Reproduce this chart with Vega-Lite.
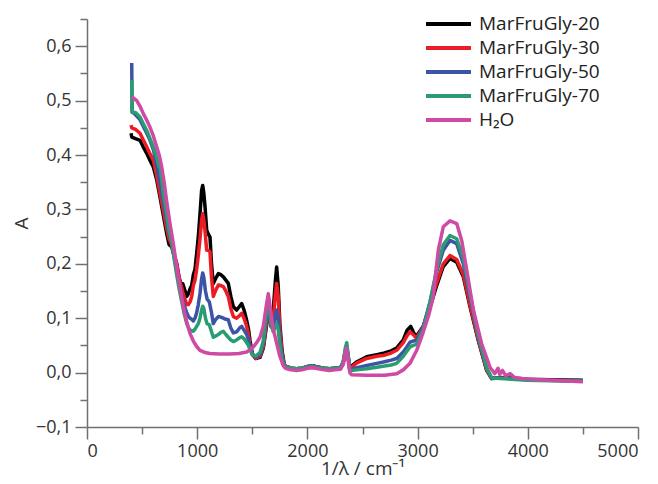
{
  "$schema": "https://vega.github.io/schema/vega-lite/v6.json",
  "width": 551,
  "height": 408,
  "autosize": {"type": "none"},
  "padding": {"left": 87, "top": 19, "right": 20, "bottom": 57},
  "background": "white",
  "config": {
    "view": {"stroke": null},
    "font": "Open Sans",
    "axis": {"grid": false, "domainColor": "#707070", "domainWidth": 1.5, "tickColor": "#707070", "tickWidth": 1.5, "labelFont": "Open Sans", "labelFontSize": 18, "labelColor": "#333333", "titleFont": "Open Sans", "titleFontSize": 19, "titleFontWeight": "normal", "titleColor": "#333333"}
  },
  "datasets": {
    "spec": [
      {"s":"MarFruGly-20","x":400,"y":0.44},{"s":"MarFruGly-20","x":406,"y":0.433},{"s":"MarFruGly-20","x":440,"y":0.43},{"s":"MarFruGly-20","x":481,"y":0.427},{"s":"MarFruGly-20","x":510,"y":0.415},{"s":"MarFruGly-20","x":542,"y":0.403},{"s":"MarFruGly-20","x":572,"y":0.39},{"s":"MarFruGly-20","x":602,"y":0.378},{"s":"MarFruGly-20","x":632,"y":0.355},{"s":"MarFruGly-20","x":662,"y":0.323},{"s":"MarFruGly-20","x":692,"y":0.29},{"s":"MarFruGly-20","x":723,"y":0.256},{"s":"MarFruGly-20","x":745,"y":0.235},{"s":"MarFruGly-20","x":769,"y":0.231},{"s":"MarFruGly-20","x":790,"y":0.215},{"s":"MarFruGly-20","x":814,"y":0.2},{"s":"MarFruGly-20","x":835,"y":0.175},{"s":"MarFruGly-20","x":850,"y":0.165},{"s":"MarFruGly-20","x":870,"y":0.163},{"s":"MarFruGly-20","x":890,"y":0.15},{"s":"MarFruGly-20","x":905,"y":0.14},{"s":"MarFruGly-20","x":920,"y":0.145},{"s":"MarFruGly-20","x":935,"y":0.154},{"s":"MarFruGly-20","x":950,"y":0.16},{"s":"MarFruGly-20","x":965,"y":0.18},{"s":"MarFruGly-20","x":980,"y":0.19},{"s":"MarFruGly-20","x":995,"y":0.219},{"s":"MarFruGly-20","x":1010,"y":0.25},{"s":"MarFruGly-20","x":1025,"y":0.29},{"s":"MarFruGly-20","x":1040,"y":0.335},{"s":"MarFruGly-20","x":1050,"y":0.344},{"s":"MarFruGly-20","x":1060,"y":0.33},{"s":"MarFruGly-20","x":1071,"y":0.305},{"s":"MarFruGly-20","x":1086,"y":0.262},{"s":"MarFruGly-20","x":1100,"y":0.255},{"s":"MarFruGly-20","x":1116,"y":0.249},{"s":"MarFruGly-20","x":1130,"y":0.2},{"s":"MarFruGly-20","x":1146,"y":0.164},{"s":"MarFruGly-20","x":1165,"y":0.172},{"s":"MarFruGly-20","x":1192,"y":0.182},{"s":"MarFruGly-20","x":1215,"y":0.18},{"s":"MarFruGly-20","x":1237,"y":0.176},{"s":"MarFruGly-20","x":1260,"y":0.17},{"s":"MarFruGly-20","x":1282,"y":0.164},{"s":"MarFruGly-20","x":1305,"y":0.14},{"s":"MarFruGly-20","x":1328,"y":0.121},{"s":"MarFruGly-20","x":1358,"y":0.115},{"s":"MarFruGly-20","x":1385,"y":0.122},{"s":"MarFruGly-20","x":1404,"y":0.127},{"s":"MarFruGly-20","x":1425,"y":0.115},{"s":"MarFruGly-20","x":1449,"y":0.096},{"s":"MarFruGly-20","x":1465,"y":0.08},{"s":"MarFruGly-20","x":1479,"y":0.059},{"s":"MarFruGly-20","x":1500,"y":0.035},{"s":"MarFruGly-20","x":1530,"y":0.026},{"s":"MarFruGly-20","x":1570,"y":0.028},{"s":"MarFruGly-20","x":1600,"y":0.045},{"s":"MarFruGly-20","x":1625,"y":0.08},{"s":"MarFruGly-20","x":1645,"y":0.11},{"s":"MarFruGly-20","x":1670,"y":0.09},{"s":"MarFruGly-20","x":1690,"y":0.115},{"s":"MarFruGly-20","x":1710,"y":0.17},{"s":"MarFruGly-20","x":1721,"y":0.194},{"s":"MarFruGly-20","x":1735,"y":0.16},{"s":"MarFruGly-20","x":1750,"y":0.09},{"s":"MarFruGly-20","x":1770,"y":0.04},{"s":"MarFruGly-20","x":1790,"y":0.015},{"s":"MarFruGly-20","x":1800,"y":0.012},{"s":"MarFruGly-20","x":1850,"y":0.008},{"s":"MarFruGly-20","x":1900,"y":0.007},{"s":"MarFruGly-20","x":1950,"y":0.008},{"s":"MarFruGly-20","x":2000,"y":0.011},{"s":"MarFruGly-20","x":2050,"y":0.012},{"s":"MarFruGly-20","x":2100,"y":0.01},{"s":"MarFruGly-20","x":2150,"y":0.008},{"s":"MarFruGly-20","x":2200,"y":0.007},{"s":"MarFruGly-20","x":2250,"y":0.008},{"s":"MarFruGly-20","x":2300,"y":0.009},{"s":"MarFruGly-20","x":2325,"y":0.018},{"s":"MarFruGly-20","x":2345,"y":0.038},{"s":"MarFruGly-20","x":2357,"y":0.045},{"s":"MarFruGly-20","x":2370,"y":0.028},{"s":"MarFruGly-20","x":2385,"y":0.008},{"s":"MarFruGly-20","x":2400,"y":0.012},{"s":"MarFruGly-20","x":2450,"y":0.02},{"s":"MarFruGly-20","x":2538,"y":0.029},{"s":"MarFruGly-20","x":2630,"y":0.033},{"s":"MarFruGly-20","x":2700,"y":0.036},{"s":"MarFruGly-20","x":2760,"y":0.04},{"s":"MarFruGly-20","x":2810,"y":0.045},{"s":"MarFruGly-20","x":2870,"y":0.06},{"s":"MarFruGly-20","x":2905,"y":0.078},{"s":"MarFruGly-20","x":2937,"y":0.085},{"s":"MarFruGly-20","x":2960,"y":0.075},{"s":"MarFruGly-20","x":2980,"y":0.068},{"s":"MarFruGly-20","x":3000,"y":0.07},{"s":"MarFruGly-20","x":3052,"y":0.085},{"s":"MarFruGly-20","x":3113,"y":0.12},{"s":"MarFruGly-20","x":3173,"y":0.16},{"s":"MarFruGly-20","x":3233,"y":0.195},{"s":"MarFruGly-20","x":3294,"y":0.21},{"s":"MarFruGly-20","x":3355,"y":0.203},{"s":"MarFruGly-20","x":3415,"y":0.176},{"s":"MarFruGly-20","x":3476,"y":0.121},{"s":"MarFruGly-20","x":3551,"y":0.059},{"s":"MarFruGly-20","x":3627,"y":0.004},{"s":"MarFruGly-20","x":3672,"y":-0.011},{"s":"MarFruGly-20","x":3750,"y":-0.009},{"s":"MarFruGly-20","x":3850,"y":-0.01},{"s":"MarFruGly-20","x":4000,"y":-0.012},{"s":"MarFruGly-20","x":4200,"y":-0.013},{"s":"MarFruGly-20","x":4500,"y":-0.014},

      {"s":"MarFruGly-30","x":400,"y":0.455},{"s":"MarFruGly-30","x":406,"y":0.45},{"s":"MarFruGly-30","x":440,"y":0.447},{"s":"MarFruGly-30","x":481,"y":0.44},{"s":"MarFruGly-30","x":510,"y":0.428},{"s":"MarFruGly-30","x":542,"y":0.415},{"s":"MarFruGly-30","x":572,"y":0.402},{"s":"MarFruGly-30","x":602,"y":0.39},{"s":"MarFruGly-30","x":632,"y":0.362},{"s":"MarFruGly-30","x":662,"y":0.33},{"s":"MarFruGly-30","x":692,"y":0.298},{"s":"MarFruGly-30","x":723,"y":0.265},{"s":"MarFruGly-30","x":745,"y":0.245},{"s":"MarFruGly-30","x":769,"y":0.235},{"s":"MarFruGly-30","x":790,"y":0.218},{"s":"MarFruGly-30","x":814,"y":0.2},{"s":"MarFruGly-30","x":835,"y":0.175},{"s":"MarFruGly-30","x":860,"y":0.155},{"s":"MarFruGly-30","x":880,"y":0.14},{"s":"MarFruGly-30","x":905,"y":0.125},{"s":"MarFruGly-30","x":920,"y":0.125},{"s":"MarFruGly-30","x":935,"y":0.13},{"s":"MarFruGly-30","x":950,"y":0.14},{"s":"MarFruGly-30","x":965,"y":0.16},{"s":"MarFruGly-30","x":980,"y":0.17},{"s":"MarFruGly-30","x":995,"y":0.19},{"s":"MarFruGly-30","x":1010,"y":0.215},{"s":"MarFruGly-30","x":1025,"y":0.245},{"s":"MarFruGly-30","x":1040,"y":0.28},{"s":"MarFruGly-30","x":1050,"y":0.292},{"s":"MarFruGly-30","x":1060,"y":0.28},{"s":"MarFruGly-30","x":1071,"y":0.26},{"s":"MarFruGly-30","x":1086,"y":0.225},{"s":"MarFruGly-30","x":1100,"y":0.225},{"s":"MarFruGly-30","x":1116,"y":0.222},{"s":"MarFruGly-30","x":1130,"y":0.175},{"s":"MarFruGly-30","x":1146,"y":0.14},{"s":"MarFruGly-30","x":1165,"y":0.15},{"s":"MarFruGly-30","x":1192,"y":0.161},{"s":"MarFruGly-30","x":1215,"y":0.16},{"s":"MarFruGly-30","x":1237,"y":0.158},{"s":"MarFruGly-30","x":1260,"y":0.15},{"s":"MarFruGly-30","x":1282,"y":0.14},{"s":"MarFruGly-30","x":1305,"y":0.118},{"s":"MarFruGly-30","x":1328,"y":0.103},{"s":"MarFruGly-30","x":1358,"y":0.1},{"s":"MarFruGly-30","x":1385,"y":0.105},{"s":"MarFruGly-30","x":1404,"y":0.109},{"s":"MarFruGly-30","x":1425,"y":0.1},{"s":"MarFruGly-30","x":1449,"y":0.085},{"s":"MarFruGly-30","x":1465,"y":0.07},{"s":"MarFruGly-30","x":1479,"y":0.05},{"s":"MarFruGly-30","x":1500,"y":0.033},{"s":"MarFruGly-30","x":1530,"y":0.026},{"s":"MarFruGly-30","x":1570,"y":0.03},{"s":"MarFruGly-30","x":1600,"y":0.047},{"s":"MarFruGly-30","x":1625,"y":0.085},{"s":"MarFruGly-30","x":1645,"y":0.115},{"s":"MarFruGly-30","x":1670,"y":0.085},{"s":"MarFruGly-30","x":1690,"y":0.1},{"s":"MarFruGly-30","x":1710,"y":0.145},{"s":"MarFruGly-30","x":1721,"y":0.164},{"s":"MarFruGly-30","x":1735,"y":0.14},{"s":"MarFruGly-30","x":1750,"y":0.08},{"s":"MarFruGly-30","x":1770,"y":0.035},{"s":"MarFruGly-30","x":1790,"y":0.014},{"s":"MarFruGly-30","x":1800,"y":0.012},{"s":"MarFruGly-30","x":1850,"y":0.008},{"s":"MarFruGly-30","x":1900,"y":0.007},{"s":"MarFruGly-30","x":1950,"y":0.008},{"s":"MarFruGly-30","x":2000,"y":0.011},{"s":"MarFruGly-30","x":2050,"y":0.012},{"s":"MarFruGly-30","x":2100,"y":0.01},{"s":"MarFruGly-30","x":2150,"y":0.008},{"s":"MarFruGly-30","x":2200,"y":0.007},{"s":"MarFruGly-30","x":2250,"y":0.008},{"s":"MarFruGly-30","x":2300,"y":0.009},{"s":"MarFruGly-30","x":2325,"y":0.018},{"s":"MarFruGly-30","x":2345,"y":0.038},{"s":"MarFruGly-30","x":2357,"y":0.045},{"s":"MarFruGly-30","x":2370,"y":0.028},{"s":"MarFruGly-30","x":2385,"y":0.006},{"s":"MarFruGly-30","x":2400,"y":0.01},{"s":"MarFruGly-30","x":2450,"y":0.018},{"s":"MarFruGly-30","x":2538,"y":0.026},{"s":"MarFruGly-30","x":2630,"y":0.03},{"s":"MarFruGly-30","x":2700,"y":0.032},{"s":"MarFruGly-30","x":2760,"y":0.036},{"s":"MarFruGly-30","x":2810,"y":0.041},{"s":"MarFruGly-30","x":2870,"y":0.055},{"s":"MarFruGly-30","x":2905,"y":0.068},{"s":"MarFruGly-30","x":2931,"y":0.075},{"s":"MarFruGly-30","x":2960,"y":0.07},{"s":"MarFruGly-30","x":2980,"y":0.065},{"s":"MarFruGly-30","x":3000,"y":0.067},{"s":"MarFruGly-30","x":3052,"y":0.085},{"s":"MarFruGly-30","x":3113,"y":0.125},{"s":"MarFruGly-30","x":3173,"y":0.165},{"s":"MarFruGly-30","x":3233,"y":0.2},{"s":"MarFruGly-30","x":3294,"y":0.215},{"s":"MarFruGly-30","x":3355,"y":0.208},{"s":"MarFruGly-30","x":3415,"y":0.18},{"s":"MarFruGly-30","x":3476,"y":0.124},{"s":"MarFruGly-30","x":3551,"y":0.06},{"s":"MarFruGly-30","x":3627,"y":0.005},{"s":"MarFruGly-30","x":3672,"y":-0.011},{"s":"MarFruGly-30","x":3750,"y":-0.01},{"s":"MarFruGly-30","x":3850,"y":-0.011},{"s":"MarFruGly-30","x":4000,"y":-0.013},{"s":"MarFruGly-30","x":4200,"y":-0.014},{"s":"MarFruGly-30","x":4500,"y":-0.015},

      {"s":"MarFruGly-50","x":406,"y":0.569},{"s":"MarFruGly-50","x":409,"y":0.48},{"s":"MarFruGly-50","x":440,"y":0.474},{"s":"MarFruGly-50","x":481,"y":0.465},{"s":"MarFruGly-50","x":510,"y":0.453},{"s":"MarFruGly-50","x":542,"y":0.44},{"s":"MarFruGly-50","x":572,"y":0.427},{"s":"MarFruGly-50","x":602,"y":0.41},{"s":"MarFruGly-50","x":632,"y":0.382},{"s":"MarFruGly-50","x":662,"y":0.35},{"s":"MarFruGly-50","x":692,"y":0.315},{"s":"MarFruGly-50","x":723,"y":0.28},{"s":"MarFruGly-50","x":745,"y":0.255},{"s":"MarFruGly-50","x":769,"y":0.24},{"s":"MarFruGly-50","x":790,"y":0.215},{"s":"MarFruGly-50","x":814,"y":0.19},{"s":"MarFruGly-50","x":835,"y":0.165},{"s":"MarFruGly-50","x":860,"y":0.14},{"s":"MarFruGly-50","x":880,"y":0.125},{"s":"MarFruGly-50","x":905,"y":0.11},{"s":"MarFruGly-50","x":920,"y":0.103},{"s":"MarFruGly-50","x":935,"y":0.1},{"s":"MarFruGly-50","x":950,"y":0.098},{"s":"MarFruGly-50","x":965,"y":0.095},{"s":"MarFruGly-50","x":980,"y":0.1},{"s":"MarFruGly-50","x":995,"y":0.11},{"s":"MarFruGly-50","x":1010,"y":0.125},{"s":"MarFruGly-50","x":1025,"y":0.145},{"s":"MarFruGly-50","x":1040,"y":0.172},{"s":"MarFruGly-50","x":1050,"y":0.183},{"s":"MarFruGly-50","x":1060,"y":0.175},{"s":"MarFruGly-50","x":1075,"y":0.15},{"s":"MarFruGly-50","x":1090,"y":0.135},{"s":"MarFruGly-50","x":1110,"y":0.13},{"s":"MarFruGly-50","x":1130,"y":0.11},{"s":"MarFruGly-50","x":1146,"y":0.09},{"s":"MarFruGly-50","x":1165,"y":0.097},{"s":"MarFruGly-50","x":1192,"y":0.103},{"s":"MarFruGly-50","x":1215,"y":0.102},{"s":"MarFruGly-50","x":1237,"y":0.1},{"s":"MarFruGly-50","x":1260,"y":0.098},{"s":"MarFruGly-50","x":1282,"y":0.097},{"s":"MarFruGly-50","x":1305,"y":0.082},{"s":"MarFruGly-50","x":1328,"y":0.073},{"s":"MarFruGly-50","x":1358,"y":0.075},{"s":"MarFruGly-50","x":1385,"y":0.082},{"s":"MarFruGly-50","x":1404,"y":0.085},{"s":"MarFruGly-50","x":1425,"y":0.078},{"s":"MarFruGly-50","x":1449,"y":0.07},{"s":"MarFruGly-50","x":1465,"y":0.06},{"s":"MarFruGly-50","x":1479,"y":0.048},{"s":"MarFruGly-50","x":1500,"y":0.034},{"s":"MarFruGly-50","x":1530,"y":0.028},{"s":"MarFruGly-50","x":1570,"y":0.033},{"s":"MarFruGly-50","x":1600,"y":0.052},{"s":"MarFruGly-50","x":1625,"y":0.095},{"s":"MarFruGly-50","x":1645,"y":0.13},{"s":"MarFruGly-50","x":1670,"y":0.085},{"s":"MarFruGly-50","x":1690,"y":0.08},{"s":"MarFruGly-50","x":1710,"y":0.105},{"s":"MarFruGly-50","x":1721,"y":0.115},{"s":"MarFruGly-50","x":1735,"y":0.1},{"s":"MarFruGly-50","x":1750,"y":0.06},{"s":"MarFruGly-50","x":1770,"y":0.03},{"s":"MarFruGly-50","x":1790,"y":0.013},{"s":"MarFruGly-50","x":1800,"y":0.012},{"s":"MarFruGly-50","x":1850,"y":0.008},{"s":"MarFruGly-50","x":1900,"y":0.007},{"s":"MarFruGly-50","x":1950,"y":0.008},{"s":"MarFruGly-50","x":2000,"y":0.011},{"s":"MarFruGly-50","x":2050,"y":0.012},{"s":"MarFruGly-50","x":2100,"y":0.01},{"s":"MarFruGly-50","x":2150,"y":0.008},{"s":"MarFruGly-50","x":2200,"y":0.007},{"s":"MarFruGly-50","x":2250,"y":0.008},{"s":"MarFruGly-50","x":2300,"y":0.009},{"s":"MarFruGly-50","x":2325,"y":0.019},{"s":"MarFruGly-50","x":2345,"y":0.042},{"s":"MarFruGly-50","x":2357,"y":0.05},{"s":"MarFruGly-50","x":2370,"y":0.03},{"s":"MarFruGly-50","x":2385,"y":0.004},{"s":"MarFruGly-50","x":2400,"y":0.006},{"s":"MarFruGly-50","x":2450,"y":0.009},{"s":"MarFruGly-50","x":2538,"y":0.013},{"s":"MarFruGly-50","x":2630,"y":0.017},{"s":"MarFruGly-50","x":2700,"y":0.02},{"s":"MarFruGly-50","x":2760,"y":0.023},{"s":"MarFruGly-50","x":2810,"y":0.026},{"s":"MarFruGly-50","x":2870,"y":0.038},{"s":"MarFruGly-50","x":2905,"y":0.048},{"s":"MarFruGly-50","x":2931,"y":0.056},{"s":"MarFruGly-50","x":2960,"y":0.058},{"s":"MarFruGly-50","x":2992,"y":0.059},{"s":"MarFruGly-50","x":3052,"y":0.085},{"s":"MarFruGly-50","x":3113,"y":0.13},{"s":"MarFruGly-50","x":3173,"y":0.185},{"s":"MarFruGly-50","x":3233,"y":0.225},{"s":"MarFruGly-50","x":3294,"y":0.243},{"s":"MarFruGly-50","x":3355,"y":0.237},{"s":"MarFruGly-50","x":3415,"y":0.2},{"s":"MarFruGly-50","x":3476,"y":0.138},{"s":"MarFruGly-50","x":3551,"y":0.065},{"s":"MarFruGly-50","x":3627,"y":0.007},{"s":"MarFruGly-50","x":3672,"y":-0.01},{"s":"MarFruGly-50","x":3750,"y":-0.01},{"s":"MarFruGly-50","x":3850,"y":-0.011},{"s":"MarFruGly-50","x":4000,"y":-0.013},{"s":"MarFruGly-50","x":4200,"y":-0.014},{"s":"MarFruGly-50","x":4500,"y":-0.015},

      {"s":"MarFruGly-70","x":406,"y":0.538},{"s":"MarFruGly-70","x":409,"y":0.478},{"s":"MarFruGly-70","x":440,"y":0.478},{"s":"MarFruGly-70","x":481,"y":0.47},{"s":"MarFruGly-70","x":510,"y":0.458},{"s":"MarFruGly-70","x":542,"y":0.445},{"s":"MarFruGly-70","x":572,"y":0.43},{"s":"MarFruGly-70","x":602,"y":0.415},{"s":"MarFruGly-70","x":632,"y":0.395},{"s":"MarFruGly-70","x":655,"y":0.378},{"s":"MarFruGly-70","x":662,"y":0.385},{"s":"MarFruGly-70","x":668,"y":0.37},{"s":"MarFruGly-70","x":692,"y":0.33},{"s":"MarFruGly-70","x":723,"y":0.29},{"s":"MarFruGly-70","x":745,"y":0.26},{"s":"MarFruGly-70","x":769,"y":0.24},{"s":"MarFruGly-70","x":790,"y":0.21},{"s":"MarFruGly-70","x":814,"y":0.18},{"s":"MarFruGly-70","x":835,"y":0.155},{"s":"MarFruGly-70","x":860,"y":0.13},{"s":"MarFruGly-70","x":880,"y":0.11},{"s":"MarFruGly-70","x":905,"y":0.09},{"s":"MarFruGly-70","x":920,"y":0.083},{"s":"MarFruGly-70","x":935,"y":0.078},{"s":"MarFruGly-70","x":950,"y":0.077},{"s":"MarFruGly-70","x":965,"y":0.076},{"s":"MarFruGly-70","x":980,"y":0.08},{"s":"MarFruGly-70","x":995,"y":0.085},{"s":"MarFruGly-70","x":1010,"y":0.09},{"s":"MarFruGly-70","x":1025,"y":0.1},{"s":"MarFruGly-70","x":1040,"y":0.115},{"s":"MarFruGly-70","x":1050,"y":0.122},{"s":"MarFruGly-70","x":1060,"y":0.118},{"s":"MarFruGly-70","x":1075,"y":0.1},{"s":"MarFruGly-70","x":1090,"y":0.09},{"s":"MarFruGly-70","x":1110,"y":0.088},{"s":"MarFruGly-70","x":1130,"y":0.075},{"s":"MarFruGly-70","x":1146,"y":0.065},{"s":"MarFruGly-70","x":1165,"y":0.067},{"s":"MarFruGly-70","x":1192,"y":0.07},{"s":"MarFruGly-70","x":1215,"y":0.074},{"s":"MarFruGly-70","x":1237,"y":0.076},{"s":"MarFruGly-70","x":1260,"y":0.07},{"s":"MarFruGly-70","x":1282,"y":0.065},{"s":"MarFruGly-70","x":1305,"y":0.06},{"s":"MarFruGly-70","x":1328,"y":0.057},{"s":"MarFruGly-70","x":1358,"y":0.06},{"s":"MarFruGly-70","x":1385,"y":0.064},{"s":"MarFruGly-70","x":1404,"y":0.066},{"s":"MarFruGly-70","x":1425,"y":0.062},{"s":"MarFruGly-70","x":1449,"y":0.055},{"s":"MarFruGly-70","x":1465,"y":0.05},{"s":"MarFruGly-70","x":1479,"y":0.042},{"s":"MarFruGly-70","x":1500,"y":0.033},{"s":"MarFruGly-70","x":1530,"y":0.03},{"s":"MarFruGly-70","x":1570,"y":0.037},{"s":"MarFruGly-70","x":1600,"y":0.058},{"s":"MarFruGly-70","x":1625,"y":0.105},{"s":"MarFruGly-70","x":1645,"y":0.14},{"s":"MarFruGly-70","x":1670,"y":0.09},{"s":"MarFruGly-70","x":1690,"y":0.075},{"s":"MarFruGly-70","x":1710,"y":0.085},{"s":"MarFruGly-70","x":1721,"y":0.09},{"s":"MarFruGly-70","x":1735,"y":0.08},{"s":"MarFruGly-70","x":1750,"y":0.05},{"s":"MarFruGly-70","x":1770,"y":0.025},{"s":"MarFruGly-70","x":1790,"y":0.012},{"s":"MarFruGly-70","x":1800,"y":0.011},{"s":"MarFruGly-70","x":1850,"y":0.008},{"s":"MarFruGly-70","x":1900,"y":0.007},{"s":"MarFruGly-70","x":1950,"y":0.008},{"s":"MarFruGly-70","x":2000,"y":0.01},{"s":"MarFruGly-70","x":2050,"y":0.011},{"s":"MarFruGly-70","x":2100,"y":0.009},{"s":"MarFruGly-70","x":2150,"y":0.008},{"s":"MarFruGly-70","x":2200,"y":0.007},{"s":"MarFruGly-70","x":2250,"y":0.008},{"s":"MarFruGly-70","x":2300,"y":0.009},{"s":"MarFruGly-70","x":2325,"y":0.02},{"s":"MarFruGly-70","x":2345,"y":0.046},{"s":"MarFruGly-70","x":2357,"y":0.055},{"s":"MarFruGly-70","x":2370,"y":0.032},{"s":"MarFruGly-70","x":2385,"y":0.003},{"s":"MarFruGly-70","x":2400,"y":0.004},{"s":"MarFruGly-70","x":2450,"y":0.005},{"s":"MarFruGly-70","x":2538,"y":0.007},{"s":"MarFruGly-70","x":2630,"y":0.01},{"s":"MarFruGly-70","x":2700,"y":0.012},{"s":"MarFruGly-70","x":2760,"y":0.014},{"s":"MarFruGly-70","x":2810,"y":0.017},{"s":"MarFruGly-70","x":2870,"y":0.03},{"s":"MarFruGly-70","x":2905,"y":0.04},{"s":"MarFruGly-70","x":2931,"y":0.047},{"s":"MarFruGly-70","x":2960,"y":0.05},{"s":"MarFruGly-70","x":2992,"y":0.052},{"s":"MarFruGly-70","x":3052,"y":0.08},{"s":"MarFruGly-70","x":3113,"y":0.13},{"s":"MarFruGly-70","x":3173,"y":0.19},{"s":"MarFruGly-70","x":3233,"y":0.235},{"s":"MarFruGly-70","x":3294,"y":0.252},{"s":"MarFruGly-70","x":3355,"y":0.246},{"s":"MarFruGly-70","x":3415,"y":0.21},{"s":"MarFruGly-70","x":3476,"y":0.145},{"s":"MarFruGly-70","x":3551,"y":0.068},{"s":"MarFruGly-70","x":3627,"y":0.009},{"s":"MarFruGly-70","x":3672,"y":-0.01},{"s":"MarFruGly-70","x":3750,"y":-0.011},{"s":"MarFruGly-70","x":3850,"y":-0.012},{"s":"MarFruGly-70","x":4000,"y":-0.014},{"s":"MarFruGly-70","x":4200,"y":-0.015},{"s":"MarFruGly-70","x":4500,"y":-0.016},

      {"s":"H₂O","x":406,"y":0.507},{"s":"H₂O","x":420,"y":0.505},{"s":"H₂O","x":451,"y":0.5},{"s":"H₂O","x":480,"y":0.49},{"s":"H₂O","x":511,"y":0.476},{"s":"H₂O","x":540,"y":0.465},{"s":"H₂O","x":572,"y":0.451},{"s":"H₂O","x":602,"y":0.435},{"s":"H₂O","x":632,"y":0.415},{"s":"H₂O","x":655,"y":0.4},{"s":"H₂O","x":678,"y":0.378},{"s":"H₂O","x":700,"y":0.35},{"s":"H₂O","x":723,"y":0.315},{"s":"H₂O","x":753,"y":0.274},{"s":"H₂O","x":785,"y":0.235},{"s":"H₂O","x":814,"y":0.194},{"s":"H₂O","x":845,"y":0.155},{"s":"H₂O","x":874,"y":0.121},{"s":"H₂O","x":905,"y":0.093},{"s":"H₂O","x":935,"y":0.072},{"s":"H₂O","x":965,"y":0.058},{"s":"H₂O","x":995,"y":0.048},{"s":"H₂O","x":1025,"y":0.041},{"s":"H₂O","x":1070,"y":0.037},{"s":"H₂O","x":1116,"y":0.035},{"s":"H₂O","x":1200,"y":0.034},{"s":"H₂O","x":1298,"y":0.034},{"s":"H₂O","x":1380,"y":0.035},{"s":"H₂O","x":1449,"y":0.038},{"s":"H₂O","x":1480,"y":0.042},{"s":"H₂O","x":1509,"y":0.047},{"s":"H₂O","x":1540,"y":0.055},{"s":"H₂O","x":1570,"y":0.065},{"s":"H₂O","x":1600,"y":0.085},{"s":"H₂O","x":1625,"y":0.12},{"s":"H₂O","x":1645,"y":0.145},{"s":"H₂O","x":1665,"y":0.115},{"s":"H₂O","x":1690,"y":0.08},{"s":"H₂O","x":1720,"y":0.055},{"s":"H₂O","x":1750,"y":0.03},{"s":"H₂O","x":1780,"y":0.013},{"s":"H₂O","x":1800,"y":0.008},{"s":"H₂O","x":1850,"y":0.005},{"s":"H₂O","x":1900,"y":0.004},{"s":"H₂O","x":1950,"y":0.005},{"s":"H₂O","x":2000,"y":0.008},{"s":"H₂O","x":2050,"y":0.009},{"s":"H₂O","x":2100,"y":0.007},{"s":"H₂O","x":2150,"y":0.005},{"s":"H₂O","x":2200,"y":0.004},{"s":"H₂O","x":2250,"y":0.005},{"s":"H₂O","x":2300,"y":0.006},{"s":"H₂O","x":2325,"y":0.015},{"s":"H₂O","x":2345,"y":0.037},{"s":"H₂O","x":2357,"y":0.045},{"s":"H₂O","x":2370,"y":0.022},{"s":"H₂O","x":2385,"y":0.0},{"s":"H₂O","x":2400,"y":-0.004},{"s":"H₂O","x":2538,"y":-0.005},{"s":"H₂O","x":2700,"y":-0.005},{"s":"H₂O","x":2810,"y":-0.002},{"s":"H₂O","x":2870,"y":0.005},{"s":"H₂O","x":2931,"y":0.017},{"s":"H₂O","x":2992,"y":0.041},{"s":"H₂O","x":3052,"y":0.075},{"s":"H₂O","x":3100,"y":0.105},{"s":"H₂O","x":3143,"y":0.14},{"s":"H₂O","x":3165,"y":0.185},{"s":"H₂O","x":3188,"y":0.225},{"s":"H₂O","x":3233,"y":0.268},{"s":"H₂O","x":3294,"y":0.279},{"s":"H₂O","x":3355,"y":0.274},{"s":"H₂O","x":3400,"y":0.243},{"s":"H₂O","x":3446,"y":0.188},{"s":"H₂O","x":3506,"y":0.115},{"s":"H₂O","x":3581,"y":0.053},{"s":"H₂O","x":3657,"y":0.01},{"s":"H₂O","x":3700,"y":-0.002},{"s":"H₂O","x":3730,"y":0.008},{"s":"H₂O","x":3745,"y":-0.003},{"s":"H₂O","x":3770,"y":0.004},{"s":"H₂O","x":3800,"y":-0.006},{"s":"H₂O","x":3840,"y":-0.002},{"s":"H₂O","x":3880,"y":-0.009},{"s":"H₂O","x":3950,"y":-0.011},{"s":"H₂O","x":4100,"y":-0.013},{"s":"H₂O","x":4300,"y":-0.015},{"s":"H₂O","x":4500,"y":-0.017}
    ]
  },
  "data": {"name": "spec"},
  "layer": [
    {
      "mark": {"type": "line", "opacity": 0},
      "encoding": {
        "detail": {"field": "s", "type": "nominal"},
        "x": {"field": "x", "type": "quantitative", "scale": {"domain": [0, 5000], "nice": false, "zero": false},
              "axis": {"orient": "bottom", "values": [500, 1500, 2500, 3500, 4500], "tickSize": 7, "labels": false, "domain": false, "title": null}},
        "y": {"field": "y", "type": "quantitative", "scale": {"domain": [-0.1, 0.65], "nice": false, "zero": false},
              "axis": {"orient": "left", "values": [-0.05, 0.05, 0.15, 0.25, 0.35, 0.45, 0.55, 0.65], "tickSize": 7, "labels": false, "domain": false, "title": null}}
      }
    },
    {
      "mark": {"type": "line", "strokeWidth": 3.5, "strokeJoin": "round"},
      "encoding": {
        "x": {"field": "x", "type": "quantitative",
              "axis": {"orient": "bottom", "values": [0, 1000, 2000, 3000, 4000, 5000], "tickSize": 12, "labelPadding": 3, "format": "d", "title": "1/λ / cm⁻¹", "titleY": 41, "titleBaseline": "middle"}},
        "y": {"field": "y", "type": "quantitative",
              "axis": {"orient": "left", "values": [-0.1, 0, 0.1, 0.2, 0.3, 0.4, 0.5, 0.6], "tickSize": 12, "labelPadding": 4, "labelExpr": "replace(format(datum.value, '.1f'), '.', ',')", "title": "A", "titleAngle": -90, "titleX": -66, "titleY": 204, "titleBaseline": "middle", "titleAlign": "center"}},
        "color": {"field": "s", "type": "nominal",
                  "scale": {"domain": ["MarFruGly-20", "MarFruGly-30", "MarFruGly-50", "MarFruGly-70", "H₂O"], "range": ["#000000", "#ed1c24", "#3b54a5", "#2a9c72", "#cf4aa5"]},
                  "legend": {"orient": "none", "legendX": 337, "legendY": -6, "title": null, "symbolType": "M-1,0H4", "symbolSize": 324, "symbolStrokeWidth": 4, "symbolFillColor": "transparent", "labelFont": "Open Sans", "labelFontSize": 19, "labelColor": "#222222", "labelOffset": 33, "rowPadding": 3}}
      }
    }
  ],
  "resolve": {"axis": {"x": "independent", "y": "independent"}}
}
